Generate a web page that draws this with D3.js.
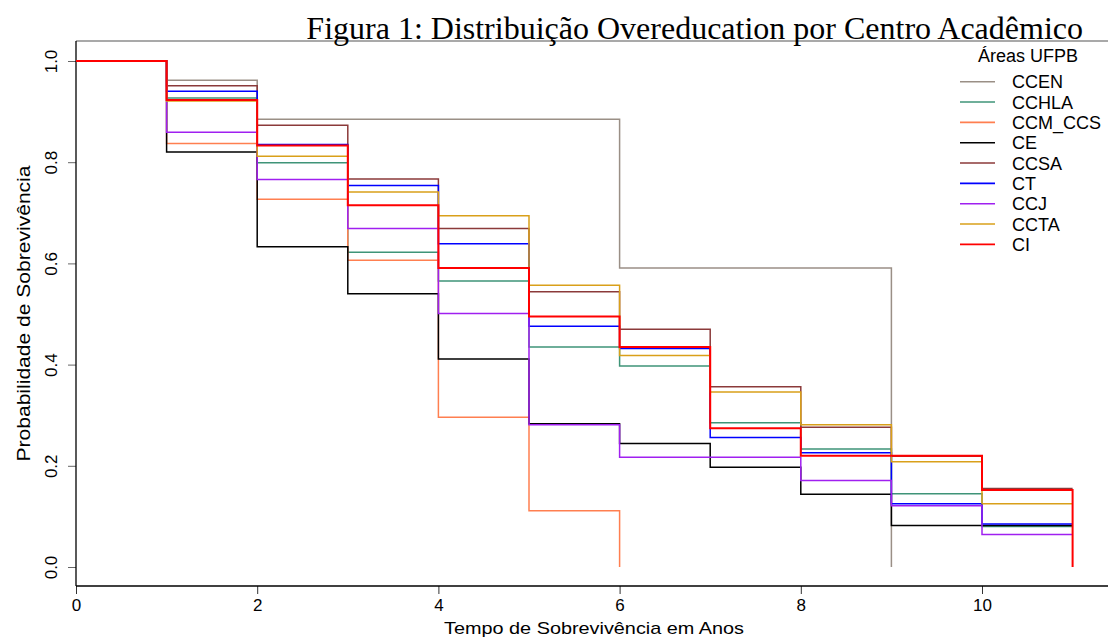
<!DOCTYPE html>
<html>
<head>
<meta charset="utf-8">
<script src="https://cdn.jsdelivr.net/npm/d3@7"></script>
<style>
  body { margin: 0; background: #fff; }
  text { font-family: "Liberation Sans", Arial, sans-serif; }
</style>
</head>
<body>
<div id="grafico"></div>
<script>
// valores (sobrevivência por ano, a partir de t = 0)
const anos = [0, 1, 2, 3, 4, 5, 6, 7, 8, 9, 10, 11];
const centros = ["CCEN", "CCHLA", "CCM_CCS", "CE", "CCSA", "CT", "CCJ", "CCTA", "CI"];
const cores = ["#9a8f86", "#3f9478", "#ff7f50", "#000000", "#8b3a3a", "#0000ff", "#a020f0", "#d9a01a", "#ff0000"];

const sCCEN = [1, 0.962, 0.885, 0.885, 0.885, 0.885, 0.591, 0.591, 0.591, 0];
const sCCHLA = [1, 0.927, 0.799, 0.622, 0.565, 0.435, 0.397, 0.285, 0.233, 0.145, 0.080, 0.080];
const sCCM = [1, 0.837, 0.727, 0.606, 0.296, 0.111, 0];
const sCE = [1, 0.820, 0.633, 0.540, 0.411, 0.283, 0.244, 0.197, 0.144, 0.082, 0.082, 0.082];
const sCCSA = [1, 0.951, 0.873, 0.767, 0.669, 0.544, 0.470, 0.356, 0.276, 0.219, 0.155, 0.155];
const sCT = [1, 0.940, 0.835, 0.754, 0.639, 0.476, 0.432, 0.256, 0.226, 0.125, 0.085, 0.085];
const sCCJ = [1, 0.859, 0.766, 0.669, 0.501, 0.281, 0.217, 0.217, 0.171, 0.121, 0.064, 0.064];
const sCCTA = [1, 0.921, 0.812, 0.741, 0.694, 0.557, 0.418, 0.346, 0.281, 0.208, 0.125, 0.125];
const sCI = [1, 0.923, 0.833, 0.715, 0.591, 0.495, 0.435, 0.274, 0.220, 0.220, 0.152, 0];

const series = [sCCEN, sCCHLA, sCCM, sCE, sCCSA, sCT, sCCJ, sCCTA, sCI];

const ticksX = [0, 2, 4, 6, 8, 10];
const ticksY = [0, 0.2, 0.4, 0.6, 0.8, 1.0];

const titulo = "Figura 1: Distribuição Overeducation por Centro Acadêmico";
const tituloLegenda = "Áreas UFPB";
const rotuloX = "Tempo de Sobrevivência em Anos";
const rotuloY = "Probabilidade de Sobrevivência";

let largura = 1108, altura = 639;

let svg = d3.select("#grafico").append("svg")
  .attr("width", largura)
  .attr("height", altura);

//escalas
let scaleX = d3.scaleLinear().domain([0, 10]).range([76, 982]);
let scaleY = d3.scaleLinear().domain([0, 1]).range([567, 61]);

let topo = 41, base = 586, esq = 76;

//moldura (lado direito fica fora da imagem)
svg.append("line")
  .attr("x1", esq).attr("x2", largura)
  .attr("y1", topo).attr("y2", topo)
  .attr("stroke", "#555").attr("stroke-width", 1.2);

//eixo X
let eixoX = d3.axisBottom(scaleX)
  .tickValues(ticksX)
  .tickSize(8)
  .tickPadding(5)
  .tickFormat(d3.format("d"));

let gX = svg.append("g")
  .attr("transform", `translate(0,${base})`)
  .call(eixoX);
gX.select(".domain").remove();
gX.append("line")
  .attr("x1", esq).attr("x2", largura)
  .attr("stroke", "#000").attr("stroke-width", 1.3);
gX.selectAll(".tick line").attr("stroke", "#333").attr("stroke-width", 1);
gX.selectAll(".tick text")
  .attr("fill", "#000")
  .style("font-size", "17px")
  .style("font-family", "Liberation Sans, Arial, sans-serif");

//eixo Y
let eixoY = d3.axisLeft(scaleY)
  .tickValues(ticksY)
  .tickSize(8)
  .tickFormat(d3.format(".1f"));

let gY = svg.append("g")
  .attr("transform", `translate(${esq},0)`)
  .call(eixoY);
gY.select(".domain").remove();
gY.append("line")
  .attr("y1", topo).attr("y2", base)
  .attr("stroke", "#000").attr("stroke-width", 1.3);
gY.selectAll(".tick line").attr("stroke", "#666").attr("stroke-width", 1);
gY.selectAll(".tick text")
  .attr("fill", "#000")
  .attr("x", null).attr("dy", null)
  .attr("text-anchor", "middle")
  .attr("transform", "translate(-19,0) rotate(-90)")
  .style("font-size", "17px")
  .style("font-family", "Liberation Sans, Arial, sans-serif");

//rótulos dos eixos
svg.append("text")
  .text(rotuloX)
  .attr("x", 594).attr("y", 634)
  .attr("text-anchor", "middle")
  .attr("textLength", 300)
  .attr("lengthAdjust", "spacingAndGlyphs")
  .style("font-size", "17px");

svg.append("text")
  .text(rotuloY)
  .attr("transform", `translate(30,${(topo + base) / 2}) rotate(-90)`)
  .attr("text-anchor", "middle")
  .attr("textLength", 296)
  .attr("lengthAdjust", "spacingAndGlyphs")
  .style("font-size", "18px");

//título
svg.append("text")
  .text(titulo)
  .attr("x", 1083).attr("y", 39)
  .attr("text-anchor", "end")
  .style("font-family", "Liberation Serif, Times New Roman, serif")
  .style("font-size", "32px");

//curvas de sobrevivência (escada)
let linha = d3.line()
  .x(d => scaleX(d.t))
  .y(d => scaleY(d.s))
  .curve(d3.curveStepAfter);

let gCurvas = svg.append("g");
series.forEach((valores, i) => {
  let pontos = valores.map((s, j) => ({ t: anos[j], s: s }));
  gCurvas.append("path")
    .attr("d", linha(pontos))
    .attr("fill", "none")
    .attr("stroke", cores[i])
    .attr("stroke-width", centros[i] === "CI" ? 2 : 1.5);
});

//legenda
let gLeg = svg.append("g");
gLeg.append("text")
  .text(tituloLegenda)
  .attr("x", 1028).attr("y", 62)
  .attr("text-anchor", "middle")
  .style("font-size", "18px");

centros.forEach((nome, i) => {
  let y = 81.7 + i * 20.33;
  gLeg.append("line")
    .attr("x1", 960).attr("x2", 995)
    .attr("y1", y).attr("y2", y)
    .attr("stroke", cores[i])
    .attr("stroke-width", 1.6);
  gLeg.append("text")
    .text(nome)
    .attr("x", 1012).attr("y", y + 6.5)
    .style("font-size", "18px");
});
</script>
</body>
</html>
